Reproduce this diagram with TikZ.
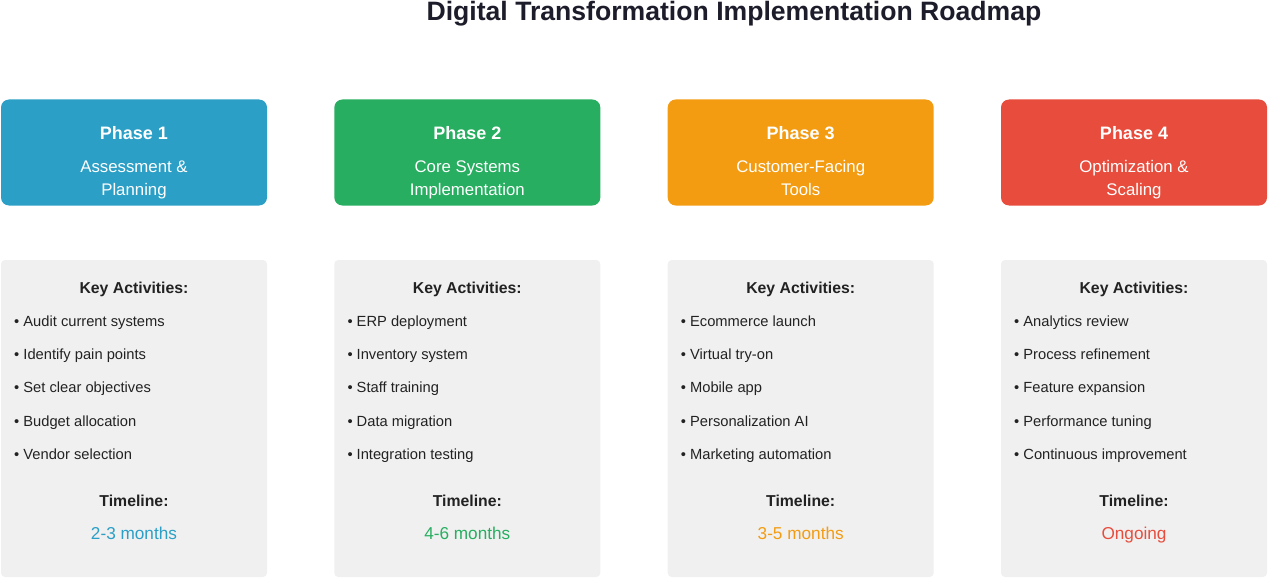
\documentclass[tikz,border=0pt]{standalone}
\usepackage{fontspec}
\setmainfont{Liberation Sans}
\usepackage{xcolor}
\usepackage{tikz}
\usetikzlibrary{shapes}
\definecolor{phaseblue}{HTML}{2B9FC6}
\definecolor{phasegreen}{HTML}{27AE60}
\definecolor{phaseorange}{HTML}{F39C12}
\definecolor{phasered}{HTML}{E74C3C}
\definecolor{boxgray}{HTML}{F0F0F0}
\definecolor{inkdark}{HTML}{222222}
\definecolor{titleink}{HTML}{1C1C2B}
\tikzstyle{phasebox} = [rectangle, rounded corners=8pt, minimum width=266pt, minimum height=106pt, inner sep=0pt]
\tikzstyle{actbox} = [rectangle, rounded corners=4pt, fill=boxgray, minimum width=266pt, minimum height=317pt, inner sep=0pt]
\tikzstyle{phasename} = [anchor=base, inner sep=0pt, text=white, font=\fontsize{18}{21}\selectfont\bfseries]
\tikzstyle{phasesub} = [anchor=base, inner sep=0pt, text=white, font=\fontsize{16.8}{20}\selectfont]
\tikzstyle{head} = [anchor=base, inner sep=0pt, text=inkdark, font=\fontsize{15.8}{19}\selectfont\bfseries]
\tikzstyle{item} = [anchor=base west, inner sep=0pt, text=inkdark, font=\fontsize{14.7}{17}\selectfont]
\tikzstyle{span} = [anchor=base, inner sep=0pt, font=\fontsize{17.2}{20}\selectfont]

\begin{document}
\begin{tikzpicture}[x=1pt, y=-1pt]
\useasboundingbox (0,0) rectangle (1268,580);
\node [anchor=base, inner sep=0pt, text=titleink, font=\fontsize{26.6}{30}\selectfont\bfseries] (title) at (734,20.5) {Digital Transformation Implementation Roadmap};

% phase boxes
\node [phasebox, fill=phaseblue] (phaseA) at (134,152.5) {};
\node [phasebox, fill=phasegreen] (phaseB) at (467.3,152.5) {};
\node [phasebox, fill=phaseorange] (phaseC) at (800.7,152.5) {};
\node [phasebox, fill=phasered] (phaseD) at (1134,152.5) {};

\node [phasename] (nameA) at (134,139.5) {Phase 1};
\node [phasesub] (subA1) at (134,173) {Assessment \&};
\node [phasesub] (subA2) at (134,196) {Planning};
\node [phasename] (nameB) at (467.3,139.5) {Phase 2};
\node [phasesub] (subB1) at (467.3,173) {Core Systems};
\node [phasesub] (subB2) at (467.3,196) {Implementation};
\node [phasename] (nameC) at (800.7,139.5) {Phase 3};
\node [phasesub] (subC1) at (800.7,173) {Customer-Facing};
\node [phasesub] (subC2) at (800.7,196) {Tools};
\node [phasename] (nameD) at (1134,139.5) {Phase 4};
\node [phasesub] (subD1) at (1134,173) {Optimization \&};
\node [phasesub] (subD2) at (1134,196) {Scaling};

% activity boxes
\node [actbox] (actA) at (134,418.5) {};
\node [actbox] (actB) at (467.3,418.5) {};
\node [actbox] (actC) at (800.7,418.5) {};
\node [actbox] (actD) at (1134,418.5) {};

\node [head] (keyA) at (134,293.3) {Key Activities:};
\node [item] (itemA1) at (14,326.3) {• Audit current systems};
\node [item] (itemA2) at (14,359.6) {• Identify pain points};
\node [item] (itemA3) at (14,392.9) {• Set clear objectives};
\node [item] (itemA4) at (14,426.2) {• Budget allocation};
\node [item] (itemA5) at (14,459.5) {• Vendor selection};
\node [head] (timeA) at (134,506) {Timeline:};
\node [span, text=phaseblue] (spanA) at (134,539.5) {2-3 months};

\node [head] (keyB) at (467.3,293.3) {Key Activities:};
\node [item] (itemB1) at (347.3,326.3) {• ERP deployment};
\node [item] (itemB2) at (347.3,359.6) {• Inventory system};
\node [item] (itemB3) at (347.3,392.9) {• Staff training};
\node [item] (itemB4) at (347.3,426.2) {• Data migration};
\node [item] (itemB5) at (347.3,459.5) {• Integration testing};
\node [head] (timeB) at (467.3,506) {Timeline:};
\node [span, text=phasegreen] (spanB) at (467.3,539.5) {4-6 months};

\node [head] (keyC) at (800.7,293.3) {Key Activities:};
\node [item] (itemC1) at (680.7,326.3) {• Ecommerce launch};
\node [item] (itemC2) at (680.7,359.6) {• Virtual try-on};
\node [item] (itemC3) at (680.7,392.9) {• Mobile app};
\node [item] (itemC4) at (680.7,426.2) {• Personalization AI};
\node [item] (itemC5) at (680.7,459.5) {• Marketing automation};
\node [head] (timeC) at (800.7,506) {Timeline:};
\node [span, text=phaseorange] (spanC) at (800.7,539.5) {3-5 months};

\node [head] (keyD) at (1134,293.3) {Key Activities:};
\node [item] (itemD1) at (1014,326.3) {• Analytics review};
\node [item] (itemD2) at (1014,359.6) {• Process refinement};
\node [item] (itemD3) at (1014,392.9) {• Feature expansion};
\node [item] (itemD4) at (1014,426.2) {• Performance tuning};
\node [item] (itemD5) at (1014,459.5) {• Continuous improvement};
\node [head] (timeD) at (1134,506) {Timeline:};
\node [span, text=phasered] (spanD) at (1134,539.5) {Ongoing};
\end{tikzpicture}
\end{document}
